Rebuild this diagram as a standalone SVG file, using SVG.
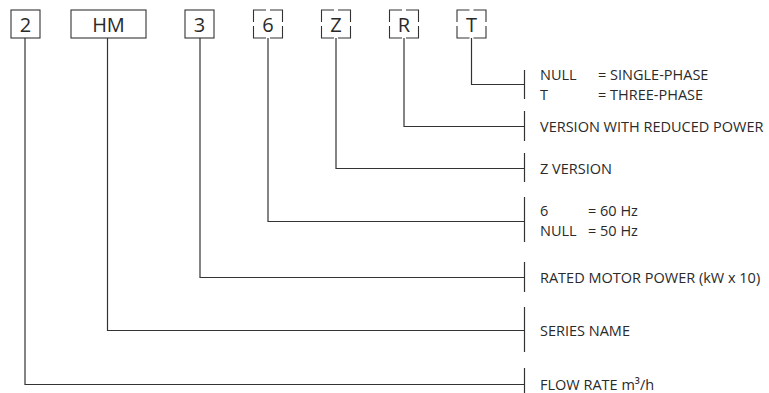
<svg xmlns="http://www.w3.org/2000/svg" width="769" height="393" viewBox="0 0 769 393">
<style>
.bx{fill:none;stroke:#333;stroke-width:1.1}
.ln{fill:none;stroke:#333;stroke-width:1.2}
.code{font-family:"Open Sans","DejaVu Sans",sans-serif;font-size:20px;fill:#2a2a2a;text-anchor:middle}
.lbl{font-family:"Open Sans","DejaVu Sans",sans-serif;font-size:14.5px;fill:#2a2a2a}
</style>
<defs>
<path id="dbox" d="M0,12 V0 H12.5 M16.5,0 H29 V12 M29,16 V28 H16.5 M12.5,28 H0 V16"/>
</defs>
<rect width="769" height="393" fill="#fff"/>
<g id="connectors" class="ln">
<path d="M471.5,38 V84.5 H524.5"/>
<path d="M404,38 V126.5 H524.5"/>
<path d="M336,38 V168.5 H524.5"/>
<path d="M268,38 V221.5 H524.5"/>
<path d="M200,38 V277.5 H524.5"/>
<path d="M107.5,38 V330.5 H524.5"/>
<path d="M25,38 V384.5 H524.5"/>
<path d="M524.5,70 V99"/>
<path d="M524.5,111 V141"/>
<path d="M524.5,153 V182"/>
<path d="M524.5,197 V242"/>
<path d="M524.5,262 V292"/>
<path d="M524.5,307 V352"/>
<path d="M524.5,368 V400"/>
</g>
<g id="n-2"><rect class="bx" x="11" y="10" width="29" height="28"/><text class="code" x="25.5" y="31.5">2</text></g>
<g id="n-HM"><rect class="bx" x="71" y="10" width="75" height="28"/><text class="code" x="108.5" y="31.5">HM</text></g>
<g id="n-3"><rect class="bx" x="185" y="10" width="29" height="28"/><text class="code" x="199.5" y="31.5">3</text></g>
<g id="n-6"><use class="bx" href="#dbox" x="253.5" y="10"/><text class="code" x="268" y="31.5">6</text></g>
<g id="n-Z"><use class="bx" href="#dbox" x="321.5" y="10"/><text class="code" x="336" y="31.5">Z</text></g>
<g id="n-R"><use class="bx" href="#dbox" x="389.5" y="10"/><text class="code" x="404" y="31.5">R</text></g>
<g id="n-T"><use class="bx" href="#dbox" x="457" y="10"/><text class="code" x="471.5" y="31.5">T</text></g>
<g id="l-T" class="lbl">
<text x="540" y="80">NULL</text><text x="598" y="80">= SINGLE-PHASE</text>
<text x="540" y="100">T</text><text x="598" y="100">= THREE-PHASE</text>
</g>
<g id="l-R" class="lbl"><text x="540" y="131.5">VERSION WITH REDUCED POWER</text></g>
<g id="l-Z" class="lbl"><text x="540" y="173.5">Z VERSION</text></g>
<g id="l-6" class="lbl">
<text x="540" y="216">6</text><text x="588" y="216">= 60 Hz</text>
<text x="540" y="236">NULL</text><text x="588" y="236">= 50 Hz</text>
</g>
<g id="l-3" class="lbl"><text x="540" y="282.5">RATED MOTOR POWER (kW x 10)</text></g>
<g id="l-HM" class="lbl"><text x="540" y="335.5">SERIES NAME</text></g>
<g id="l-2" class="lbl"><text x="540" y="389.5">FLOW RATE m³/h</text></g>
</svg>
